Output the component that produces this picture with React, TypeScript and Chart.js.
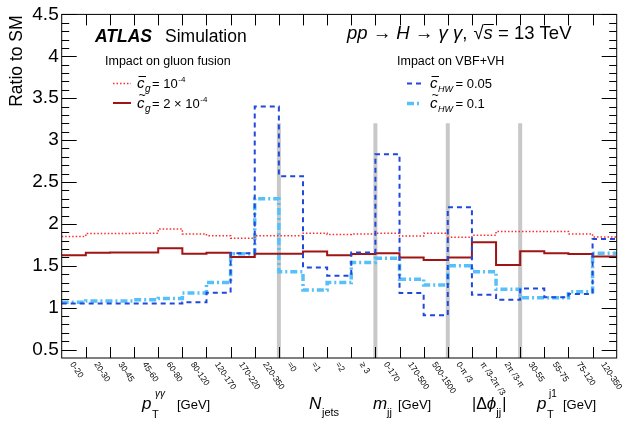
import { useEffect, useRef } from 'react'
import { Chart, registerables } from 'chart.js'
import type { ChartConfiguration, Plugin } from 'chart.js'

Chart.register(...registerables)

// bin labels, one per histogram bin
const binLabels = [
  '0-20', '20-30', '30-45', '45-60', '60-80', '80-120', '120-170', '170-220', '220-350',
  '=0', '=1', '=2', '≥ 3',
  '0-170', '170-500', '500-1500',
  '0-π /3', 'π /3-2π /3', '2π /3-π',
  '30-55', '55-75', '75-120', '120-350',
]

// ratio to SM per bin
const cgBar = [1.85, 1.885, 1.885, 1.89, 1.94, 1.88, 1.86, 1.83, 1.86, 1.86, 1.89, 1.875, 1.88, 1.89, 1.855, 1.89, 1.84, 1.865, 1.91, 1.91, 1.91, 1.88, 1.845]
const cgTilde = [1.625, 1.655, 1.66, 1.66, 1.71, 1.645, 1.655, 1.605, 1.645, 1.645, 1.67, 1.625, 1.64, 1.65, 1.6, 1.57, 1.6, 1.78, 1.51, 1.675, 1.65, 1.64, 1.61]
const chwBar = [1.05, 1.05, 1.05, 1.05, 1.05, 1.065, 1.18, 1.65, 3.4, 2.57, 1.48, 1.38, 1.66, 2.83, 1.175, 0.91, 2.2, 1.155, 1.095, 1.23, 1.125, 1.165, 1.82]
const chwTilde = [1.065, 1.08, 1.08, 1.095, 1.11, 1.175, 1.3, 1.645, 2.3, 1.43, 1.21, 1.3, 1.54, 1.59, 1.34, 1.27, 1.5, 1.43, 1.22, 1.12, 1.12, 1.19, 1.65]

// group boundaries (bin edges) drawn as grey separators
const separators = [9, 13, 16, 19]
const separatorTop = 3.2
const yTicks = [0.5, 1, 1.5, 2, 2.5, 3, 3.5, 4, 4.5]

const FONT = '"Liberation Sans", Arial, Helvetica, sans-serif'
const RED = '#ff2a2a'
const DARKRED = '#a01414'
const BLUE = '#1f48dc'
const LIGHTBLUE = '#55c0fa'

const toSteps = (vals: number[]) => [
  ...vals.map((v, i) => ({ x: i, y: v })),
  { x: vals.length, y: vals[vals.length - 1] },
]

function txt(ctx: CanvasRenderingContext2D, s: string, font: string, x: number, y: number) {
  ctx.font = font
  ctx.fillText(s, x, y)
  return ctx.measureText(s).width
}

// italic c with a bar or a tilde on top
function cSym(ctx: CanvasRenderingContext2D, kind: 'bar' | 'tilde', x: number, y: number) {
  const w = txt(ctx, 'c', `italic 15px ${FONT}`, x, y)
  if (kind === 'bar') {
    ctx.beginPath()
    ctx.lineWidth = 1
    ctx.moveTo(x + 1.5, y - 11.5)
    ctx.lineTo(x + w + 1.5, y - 11.5)
    ctx.stroke()
  } else {
    ctx.textAlign = 'center'
    txt(ctx, '~', `12px ${FONT}`, x + w / 2 + 1.5, y - 9)
    ctx.textAlign = 'left'
  }
  return w
}

function legendSample(ctx: CanvasRenderingContext2D, x0: number, x1: number, y: number, color: string, width: number, dash: number[]) {
  ctx.save()
  ctx.strokeStyle = color
  ctx.lineWidth = width
  ctx.setLineDash(dash)
  ctx.beginPath()
  ctx.moveTo(x0, y)
  ctx.lineTo(x1, y)
  ctx.stroke()
  ctx.restore()
}

const decor: Plugin<'line'> = {
  id: 'decor',
  beforeDatasetsDraw(chart) {
    const { ctx, scales: { x, y } } = chart
    ctx.save()
    ctx.strokeStyle = '#c8c8c8'
    ctx.lineWidth = 4
    for (const s of separators) {
      const px = x.getPixelForValue(s)
      ctx.beginPath()
      ctx.moveTo(px, y.getPixelForValue(separatorTop))
      ctx.lineTo(px, y.bottom)
      ctx.stroke()
    }
    ctx.restore()
  },
  afterDraw(chart) {
    const { ctx, chartArea: a, scales: { x, y } } = chart
    ctx.save()
    ctx.strokeStyle = '#000'
    ctx.fillStyle = '#000'
    ctx.lineWidth = 1

    // frame
    ctx.strokeRect(a.left, a.top, a.right - a.left, a.bottom - a.top)

    // y ticks, inside, both sides
    ctx.beginPath()
    for (let k = 5; k <= 45; k++) {
      const py = Math.round(y.getPixelForValue(k / 10)) + 0.5
      const len = k % 5 === 0 ? 15 : 7.5
      ctx.moveTo(a.left, py)
      ctx.lineTo(a.left + len, py)
      ctx.moveTo(a.right, py)
      ctx.lineTo(a.right - len, py)
    }
    // x ticks at bin edges, top and bottom
    for (let i = 1; i < binLabels.length; i++) {
      const px = Math.round(x.getPixelForValue(i)) + 0.5
      ctx.moveTo(px, a.bottom)
      ctx.lineTo(px, a.bottom - 11)
      ctx.moveTo(px, a.top)
      ctx.lineTo(px, a.top + 11)
    }
    ctx.stroke()

    // y title
    ctx.save()
    ctx.translate(17, a.top + 1)
    ctx.rotate(-Math.PI / 2)
    ctx.textAlign = 'right'
    ctx.textBaseline = 'middle'
    txt(ctx, 'Ratio to SM', `17.5px ${FONT}`, 0, 0)
    ctx.restore()

    // rotated bin labels
    ctx.font = `8.5px ${FONT}`
    ctx.textAlign = 'left'
    ctx.textBaseline = 'middle'
    binLabels.forEach((lab, i) => {
      const px = x.getPixelForValue(i + 0.5)
      ctx.save()
      ctx.translate(px - 2, a.bottom + 5)
      ctx.rotate((56 * Math.PI) / 180)
      ctx.fillText(lab, 0, 0)
      ctx.restore()
    })
    ctx.textBaseline = 'alphabetic'

    // group titles
    const it16 = `italic 17px ${FONT}`
    const n13 = `13px ${FONT}`
    txt(ctx, 'p', it16, 142, 409)
    txt(ctx, 'T', `11px ${FONT}`, 152, 418)
    txt(ctx, 'γγ', `italic 10px ${FONT}`, 155, 397)
    txt(ctx, '[GeV]', n13, 177, 409)

    txt(ctx, 'N', it16, 309, 409)
    txt(ctx, 'jets', `11px ${FONT}`, 322, 416)

    txt(ctx, 'm', it16, 373, 409)
    txt(ctx, 'jj', `11px ${FONT}`, 387, 416)
    txt(ctx, '[GeV]', n13, 398, 409)

    let cx = 472
    cx += txt(ctx, '|Δ', `16px ${FONT}`, cx, 409)
    cx += txt(ctx, 'ϕ', it16, cx, 409)
    cx += txt(ctx, 'jj', `11px ${FONT}`, cx, 416)
    txt(ctx, '|', `16px ${FONT}`, cx + 1, 409)

    txt(ctx, 'p', it16, 537, 409)
    txt(ctx, 'T', `11px ${FONT}`, 547, 418)
    txt(ctx, 'j1', `10px ${FONT}`, 549, 397)
    txt(ctx, '[GeV]', n13, 563, 409)

    // headline
    txt(ctx, 'ATLAS', `italic bold 17.5px ${FONT}`, 95, 42)
    txt(ctx, 'Simulation', `17.5px ${FONT}`, 165, 42)
    const it = `italic 18.5px ${FONT}`
    const nr = `18.5px ${FONT}`
    const hb = 39
    cx = 347
    cx += txt(ctx, 'pp', it, cx, hb)
    cx += txt(ctx, ' → ', nr, cx, hb)
    cx += txt(ctx, 'H', it, cx, hb)
    cx += txt(ctx, ' → ', nr, cx, hb)
    cx += txt(ctx, 'γ γ', it, cx, hb)
    cx += txt(ctx, ', ', nr, cx, hb) + 1
    cx += txt(ctx, '√', nr, cx, hb)
    const sw = txt(ctx, 's', it, cx, hb)
    ctx.beginPath()
    ctx.moveTo(cx, 24.5)
    ctx.lineTo(cx + sw + 1, 24.5)
    ctx.stroke()
    cx += sw
    txt(ctx, ' = 13 TeV', nr, cx, hb)

    // legends
    txt(ctx, 'Impact on gluon fusion', `12.5px ${FONT}`, 105, 65)
    txt(ctx, 'Impact on VBF+VH', `12.5px ${FONT}`, 397, 65)

    legendSample(ctx, 113, 131, 83.5, RED, 1.5, [1.5, 2])
    cx = 137 + cSym(ctx, 'bar', 137, 88)
    cx += txt(ctx, 'g', `italic 10px ${FONT}`, cx + 0.5, 92) + 2
    cx += txt(ctx, '= 10', n13, cx, 88)
    txt(ctx, '-4', `8px ${FONT}`, cx + 0.5, 82)

    legendSample(ctx, 113, 131, 103, DARKRED, 2, [])
    cx = 137 + cSym(ctx, 'tilde', 137, 108)
    cx += txt(ctx, 'g', `italic 10px ${FONT}`, cx + 0.5, 112) + 2
    cx += txt(ctx, '= 2 × 10', n13, cx, 108)
    txt(ctx, '-4', `8px ${FONT}`, cx + 0.5, 102)

    legendSample(ctx, 407, 421, 83.5, BLUE, 2, [5, 4])
    cx = 430 + cSym(ctx, 'bar', 430, 88)
    cx += txt(ctx, 'HW', `italic 9px ${FONT}`, cx + 0.5, 92) + 3
    txt(ctx, '= 0.05', n13, cx, 88)

    legendSample(ctx, 407, 421, 103.5, LIGHTBLUE, 3.5, [7, 3, 2, 3])
    cx = 430 + cSym(ctx, 'tilde', 430, 108)
    cx += txt(ctx, 'HW', `italic 9px ${FONT}`, cx + 0.5, 112) + 3
    txt(ctx, '= 0.1', n13, cx, 108)

    ctx.restore()
  },
}

const histo = (label: string, vals: number[], color: string, width: number, dash: number[]) => ({
  label,
  data: toSteps(vals),
  borderColor: color,
  borderWidth: width,
  borderDash: dash,
  stepped: true as const,
  pointRadius: 0,
  fill: false,
})

export default function App() {
  const canvasRef = useRef<HTMLCanvasElement>(null)

  useEffect(() => {
    if (!canvasRef.current) return
    const config: ChartConfiguration<'line'> = {
      type: 'line',
      data: {
        datasets: [
          histo('c_HW bar = 0.05', chwBar, BLUE, 2, [5, 4]),
          histo('c_g tilde = 2e-4', cgTilde, DARKRED, 2, []),
          histo('c_g bar = 1e-4', cgBar, RED, 1.5, [1.5, 2]),
          histo('c_HW tilde = 0.1', chwTilde, LIGHTBLUE, 3.5, [7, 3, 2, 3]),
        ],
      },
      options: {
        responsive: false,
        animation: false,
        layout: { padding: { left: 0, right: 6.3, top: 12, bottom: 64 } },
        plugins: { legend: { display: false }, tooltip: { enabled: false } },
        scales: {
          x: { type: 'linear', min: 0, max: binLabels.length, display: false },
          y: {
            type: 'linear',
            min: 0.4,
            max: 4.5,
            grid: { display: false, drawTicks: false },
            border: { display: false },
            afterBuildTicks: (s) => {
              s.ticks = yTicks.map((v) => ({ value: v }))
            },
            afterFit: (s) => {
              s.width = 61.7
            },
            ticks: {
              color: '#000',
              padding: 3,
              font: { family: FONT, size: 19 },
              callback: (v) => String(v),
            },
          },
        },
      },
      plugins: [decor],
    }
    const chart = new Chart(canvasRef.current, config)
    return () => chart.destroy()
  }, [])

  return (
    <div style={{ position: 'absolute', left: 0, top: 0, width: 623, height: 422, background: '#fff' }}>
      <canvas ref={canvasRef} width={623} height={422} />
    </div>
  )
}
